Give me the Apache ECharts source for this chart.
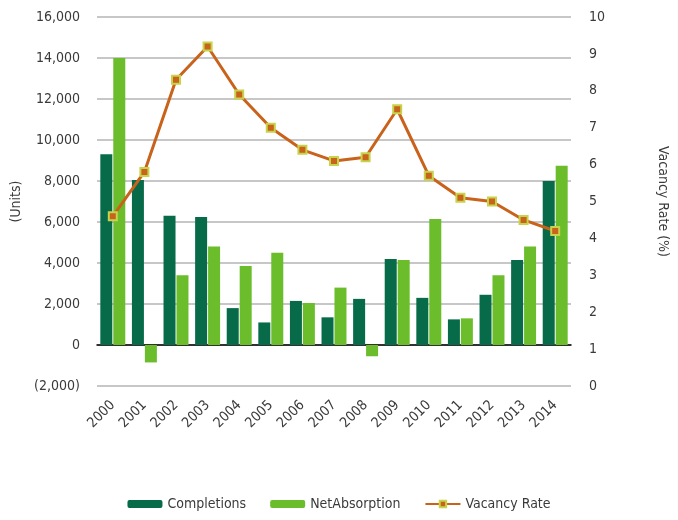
<!DOCTYPE html>
<html>
<head>
<meta charset="utf-8">
<script src="https://cdn.jsdelivr.net/npm/echarts@6/dist/echarts.min.js"></script>
<style>
html, body { margin: 0; padding: 0; background: #fff; }
#chart { width: 678px; height: 520px; }
</style>
</head>
<body>
<div id="chart"></div>
<script>
var years = ['2000', '2001', '2002', '2003', '2004', '2005', '2006', '2007',
  '2008', '2009', '2010', '2011', '2012', '2013', '2014'];
var completions = [9300, 8050, 6300, 6250, 1800, 1100, 2150, 1350, 2250, 4200, 2300, 1250, 2450, 4150, 8000];
var netAbsorption = [14000, -850, 3400, 4800, 3850, 4500, 2050, 2800, -550, 4150, 6150, 1300, 3400, 4800, 8750];
var vacancyRate = [4.6, 5.8, 8.3, 9.2, 7.9, 7.0, 6.4, 6.1, 6.2, 7.5, 5.7, 5.1, 5.0, 4.5, 4.2];

var font = "'DejaVu Sans Condensed', 'Liberation Sans Narrow', sans-serif";
var textColor = '#3a3a3a';

var chart = echarts.init(document.getElementById('chart'));

var option = {
  animation: false,
  textStyle: { fontFamily: font, color: textColor },
  grid: { left: 97, right: 106, top: 17, bottom: 134 },
  legend: {
    bottom: 4,
    left: 'center',
    itemWidth: 35,
    itemHeight: 8,
    itemGap: 24,
    textStyle: { fontFamily: font, fontSize: 14, color: textColor },
    data: ['Completions', 'NetAbsorption', 'Vacancy Rate']
  },
  xAxis: {
    type: 'category',
    data: years,
    axisLine: { onZero: true, lineStyle: { color: '#000', width: 1.5 } },
    axisTick: { show: false },
    axisLabel: {
      rotate: 45,
      interval: 0,
      fontSize: 14,
      color: textColor,
      fontFamily: font,
      margin: 17
    }
  },
  yAxis: [
    {
      type: 'value',
      min: -2000,
      max: 16000,
      interval: 2000,
      name: '(Units)',
      nameLocation: 'middle',
      nameGap: 70,
      nameTextStyle: { fontSize: 14, color: textColor, fontFamily: font },
      axisLine: { show: false },
      axisTick: { show: false },
      splitLine: { lineStyle: { color: '#b5b5b5', width: 1.5 } },
      axisLabel: {
        fontSize: 14,
        color: textColor,
        fontFamily: font,
        margin: 17,
        formatter: function (v) {
          var s = Math.abs(v).toLocaleString('en-US');
          return v < 0 ? '(' + s + ')' : s;
        }
      }
    },
    {
      type: 'value',
      min: 0,
      max: 10,
      interval: 1,
      position: 'right',
      name: 'Vacancy Rate (%)',
      nameLocation: 'middle',
      nameRotate: -90,
      nameGap: 85,
      nameTextStyle: { fontSize: 14, color: textColor, fontFamily: font },
      axisLine: { show: false },
      axisTick: { show: false },
      splitLine: { show: false },
      axisLabel: { fontSize: 14, color: textColor, fontFamily: font, margin: 18 }
    }
  ],
  series: [
    {
      name: 'Completions',
      type: 'bar',
      data: completions,
      barWidth: 12,
      barGap: '8%',
      itemStyle: { color: '#076b49' }
    },
    {
      name: 'NetAbsorption',
      type: 'bar',
      data: netAbsorption,
      barWidth: 12,
      itemStyle: { color: '#6bbd2c' }
    },
    {
      name: 'Vacancy Rate',
      type: 'line',
      yAxisIndex: 1,
      data: vacancyRate,
      symbol: 'rect',
      symbolSize: 8,
      lineStyle: { color: '#c9621b', width: 3 },
      itemStyle: { color: '#c9621b', borderColor: '#c6d34b', borderWidth: 2 }
    }
  ]
};

chart.setOption(option);
</script>
</body>
</html>
